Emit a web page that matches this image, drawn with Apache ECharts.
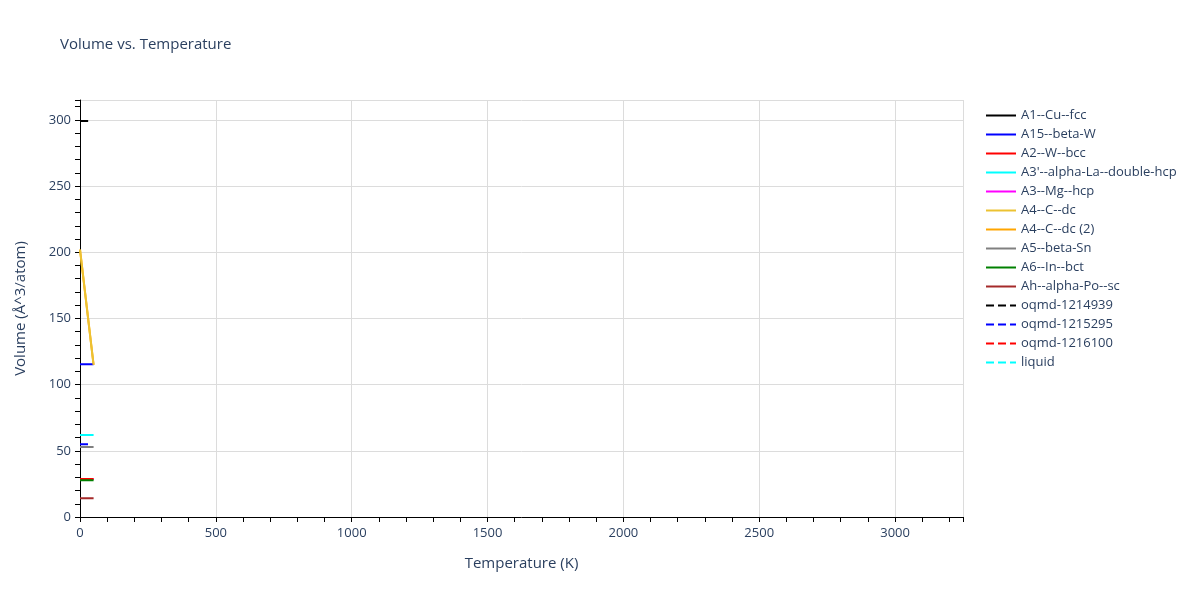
<!DOCTYPE html>
<html>
<head>
<meta charset="utf-8">
<title>Volume vs. Temperature</title>
<script src="https://cdn.jsdelivr.net/npm/echarts@6/dist/echarts.min.js"></script>
<style>
  html, body { margin: 0; padding: 0; background: #fff; }
  #main { width: 1200px; height: 600px; }
</style>
</head>
<body>
<div id="main"></div>
<script>
// temperatures (K) sampled by each calculation
var tempsLong = [0, 10, 20, 30, 40, 50];
var tempsShort = [0, 10, 20, 30];
var tempsC = [0, 50];

// volumes (A^3/atom)
var volCuFcc = [299.2, 299.2, 299.2, 299.2];
var volBetaW = [115.4, 115.4, 115.4, 115.4, 115.4, 115.4];
var volWBcc = [28.7, 28.7, 28.7, 28.7, 28.7, 28.7];
var volLaDhcp = [62.0, 62.0, 62.0, 62.0, 62.0, 62.0];
var volMgHcp = [28.7, 28.7, 28.7, 28.7, 28.7, 28.7];
var volCDc = [202.0, 115.0];
var volCDc2 = [202.0, 115.0];
var volBetaSn = [52.9, 52.9, 52.9, 52.9, 52.9, 52.9];
var volInBct = [27.7, 27.7, 27.7, 27.7, 27.7, 27.7];
var volPoSc = [14.1, 14.1, 14.1, 14.1, 14.1, 14.1];
var volOqmd1214939 = [299.2, 299.2, 299.2, 299.2];
var volOqmd1215295 = [54.9, 54.9, 54.9, 54.9];
var volOqmd1216100 = [28.7, 28.7, 28.7, 28.7];
var volLiquid = [62.0, 62.0, 62.0, 62.0];

var seriesDefs = [
    { name: 'A1--Cu--fcc', t: tempsShort, v: volCuFcc, color: '#000000', dash: 'solid', z: 2 },
    { name: 'A15--beta-W', t: tempsLong, v: volBetaW, color: '#0000ff', dash: 'solid', z: 2 },
    { name: 'A2--W--bcc', t: tempsLong, v: volWBcc, color: '#ff0000', dash: 'solid', z: 2 },
    { name: "A3'--alpha-La--double-hcp", t: tempsLong, v: volLaDhcp, color: '#00ffff', dash: 'solid', z: 2 },
    { name: 'A3--Mg--hcp', t: tempsLong, v: volMgHcp, color: '#ff00ff', dash: 'solid', z: 1 },
    { name: 'A4--C--dc', t: tempsC, v: volCDc, color: '#ecc232', dash: 'solid', z: 3 },
    { name: 'A4--C--dc (2)', t: tempsC, v: volCDc2, color: '#ffa500', dash: 'solid', z: 1 },
    { name: 'A5--beta-Sn', t: tempsLong, v: volBetaSn, color: '#808080', dash: 'solid', z: 2 },
    { name: 'A6--In--bct', t: tempsLong, v: volInBct, color: '#008000', dash: 'solid', z: 2 },
    { name: 'Ah--alpha-Po--sc', t: tempsLong, v: volPoSc, color: '#a52a2a', dash: 'solid', z: 2 },
    { name: 'oqmd-1214939', t: tempsShort, v: volOqmd1214939, color: '#000000', dash: 'dashed', z: 2 },
    { name: 'oqmd-1215295', t: tempsShort, v: volOqmd1215295, color: '#0000ff', dash: 'dashed', z: 2 },
    { name: 'oqmd-1216100', t: tempsShort, v: volOqmd1216100, color: '#ff0000', dash: 'dashed', z: 1 },
    { name: 'liquid', t: tempsShort, v: volLiquid, color: '#00ffff', dash: 'dashed', z: 2 }
];

var textColor = '#2a3f5f';
var font = '"Open Sans", Verdana, Arial, sans-serif';

function VolumeChart() {
    var myChart = echarts.init(document.getElementById('main'));

    var series = seriesDefs.map(function (s) {
        return {
            name: s.name,
            type: 'line',
            xAxisIndex: 0,
            yAxisIndex: 0,
            symbol: 'none',
            z: s.z,
            color: s.color,
            lineStyle: { width: 2, color: s.color, type: s.dash },
            data: s.t.map(function (t, i) { return [t, s.v[i]]; })
        };
    });

    var option = {
        backgroundColor: '#ffffff',
        animation: false,
        textStyle: { fontFamily: font, color: textColor },
        title: {
            text: 'Volume vs. Temperature',
            left: 60,
            top: 37,
            padding: 0,
            textStyle: { fontFamily: font, fontSize: 15, fontWeight: 'normal', color: textColor }
        },
        legend: {
            orient: 'vertical',
            left: 985,
            top: 109,
            itemWidth: 30,
            itemHeight: 12,
            itemGap: 6,
            padding: 0,
            itemStyle: { opacity: 0 },
            textStyle: { fontFamily: font, fontSize: 13, color: textColor },
            data: seriesDefs.map(function (s) { return s.name; })
        },
        grid: { left: 80, right: 237, top: 100, bottom: 83, containLabel: false },
        xAxis: [
            {
                type: 'value', min: 0, max: 3250, interval: 500, position: 'bottom', offset: 2,
                name: 'Temperature (K)', nameLocation: 'middle', nameGap: 37,
                nameTextStyle: { fontFamily: font, fontSize: 15, color: textColor },
                axisLine: { show: true, lineStyle: { color: '#000', width: 1 } },
                axisTick: { show: false },
                axisLabel: {
                    fontFamily: font, fontSize: 13, color: textColor, margin: 8,
                    formatter: function (v) { return v % 500 === 0 ? String(v) : ''; }
                },
                splitLine: { show: true, lineStyle: { color: '#dcdcdc', width: 1 } }
            },
            {
                type: 'value', min: 0, max: 3250, interval: 100, position: 'bottom', offset: 2,
                axisLine: { show: false },
                axisTick: { show: true, inside: false, length: 5, lineStyle: { color: '#000' } },
                axisLabel: { show: false },
                splitLine: { show: false }
            }
        ],
        yAxis: [
            {
                type: 'value', min: 0, max: 315, interval: 50, position: 'left',
                name: 'Volume (Å^3/atom)', nameLocation: 'middle', nameGap: 52,
                nameTextStyle: { fontFamily: font, fontSize: 15, color: textColor },
                axisLine: { show: true, lineStyle: { color: '#000', width: 1 } },
                axisTick: { show: false },
                axisLabel: {
                    fontFamily: font, fontSize: 13, color: textColor, margin: 9,
                    formatter: function (v) { return v % 50 === 0 ? String(v) : ''; }
                },
                splitLine: { show: true, lineStyle: { color: '#dcdcdc', width: 1 } }
            },
            {
                type: 'value', min: 0, max: 315, interval: 10, position: 'left',
                axisLine: { show: false },
                axisTick: { show: true, inside: false, length: 5, lineStyle: { color: '#000' } },
                axisLabel: { show: false },
                splitLine: { show: false }
            }
        ],
        series: series
    };

    myChart.setOption(option, true);
    return myChart;
}

window.onload = function () {
    var volumeChart = VolumeChart();
    window.onresize = function () {
        volumeChart.resize();
    };
};
</script>
</body>
</html>
